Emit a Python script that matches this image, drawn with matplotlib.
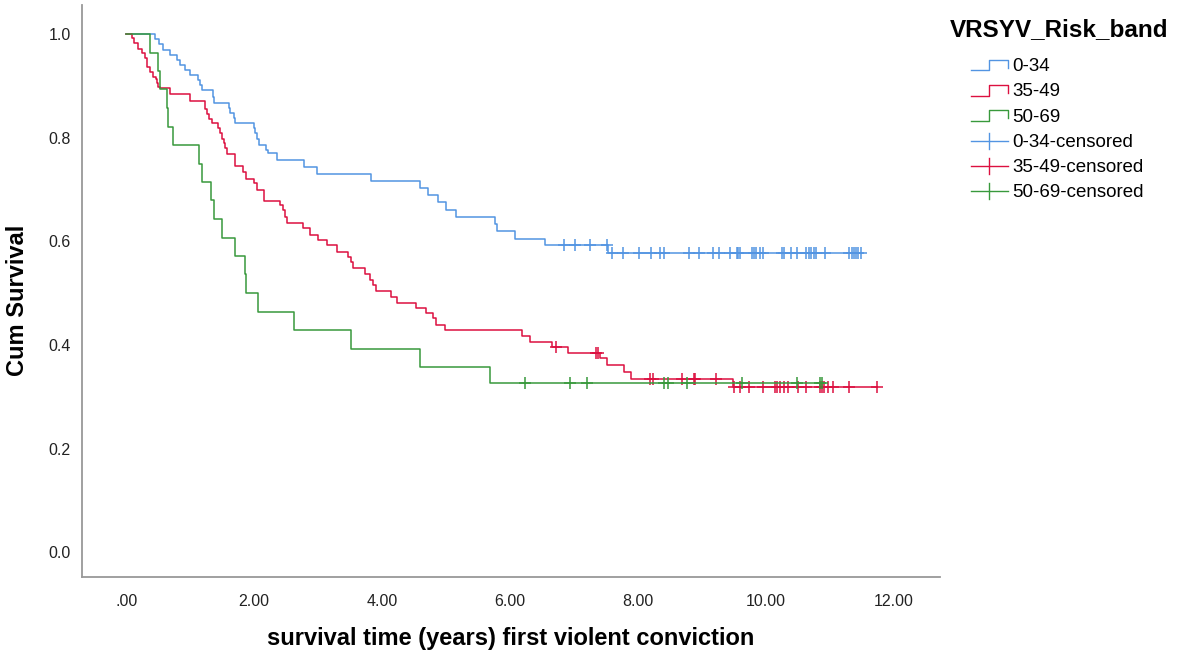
import numpy as np
import matplotlib
matplotlib.use("Agg")
import matplotlib.pyplot as plt
from matplotlib.lines import Line2D
from matplotlib.legend_handler import HandlerBase

plt.rcParams['font.family'] = ['Liberation Sans', 'DejaVu Sans']

# Kaplan-Meier steps: event time (years) and cumulative survival after the event
low_times = [0.45, 0.52, 0.58, 0.69, 0.79, 0.84, 0.92, 1.00, 1.13, 1.16, 1.18, 1.36, 1.375,
             1.60, 1.625, 1.68, 1.70, 2.00, 2.02, 2.04, 2.07, 2.19, 2.22, 2.35, 2.78, 2.99,
             3.82, 4.59, 4.71, 4.88, 5.00, 5.15, 5.77, 5.80, 6.08, 6.55, 7.53]
low_surv = [0.990, 0.980, 0.969, 0.959, 0.950, 0.940, 0.931, 0.921, 0.911, 0.902, 0.892, 0.879, 0.866,
            0.857, 0.847, 0.837, 0.828, 0.818, 0.808, 0.797, 0.786, 0.776, 0.770, 0.757, 0.743, 0.730,
            0.716, 0.702, 0.689, 0.675, 0.660, 0.646, 0.634, 0.620, 0.605, 0.593, 0.578]
low_cens = [6.84, 7.02, 7.25, 7.52, 7.59, 7.77, 8.02, 8.20, 8.35, 8.40, 8.80, 8.96, 9.17, 9.27,
            9.44, 9.54, 9.57, 9.60, 9.78, 9.81, 9.85, 9.91, 9.96, 10.25, 10.28, 10.39, 10.48,
            10.63, 10.68, 10.71, 10.75, 10.78, 10.92, 11.30, 11.34, 11.38, 11.41, 11.44, 11.48]

mid_times = [0.089, 0.115, 0.193, 0.245, 0.297, 0.323, 0.375, 0.427, 0.47, 0.479, 0.505, 0.53,
             0.69, 1.00, 1.24, 1.27, 1.30, 1.34, 1.43, 1.47, 1.50, 1.53, 1.55, 1.57, 1.70, 1.83,
             1.87, 2.00, 2.04, 2.15, 2.41, 2.45, 2.48, 2.52, 2.76, 2.875, 3.00, 3.14, 3.29, 3.47,
             3.51, 3.55, 3.73, 3.81, 3.86, 3.91, 4.14, 4.23, 4.53, 4.69, 4.80, 4.85, 4.98, 6.18,
             6.31, 6.65, 6.90, 7.41, 7.51, 7.78, 7.89, 9.48]
mid_surv = [0.992, 0.982, 0.971, 0.963, 0.953, 0.937, 0.927, 0.918, 0.914, 0.905, 0.898, 0.895,
            0.884, 0.870, 0.856, 0.846, 0.836, 0.828, 0.818, 0.808, 0.798, 0.790, 0.780, 0.768, 0.745, 0.734,
            0.721, 0.712, 0.699, 0.678, 0.670, 0.660, 0.647, 0.635, 0.625, 0.612, 0.602, 0.593, 0.580, 0.570,
            0.560, 0.548, 0.537, 0.525, 0.515, 0.504, 0.493, 0.481, 0.472, 0.461, 0.451, 0.438, 0.429, 0.417,
            0.406, 0.396, 0.385, 0.374, 0.361, 0.348, 0.335, 0.319]
mid_cens = [6.72, 7.35, 7.38, 8.18, 8.23, 8.68, 8.875, 8.89, 9.22, 9.50, 9.59, 9.74, 9.95,
            10.14, 10.17, 10.22, 10.28, 10.35, 10.50, 10.63, 10.84, 10.87, 10.90, 10.97, 11.05,
            11.30, 11.73]

high_times = [0.375, 0.505, 0.53, 0.636, 0.66, 0.73, 1.146, 1.18, 1.33, 1.38, 1.505, 1.70,
              1.86, 1.87, 2.06, 2.63, 3.51, 4.60, 5.69]
high_surv = [0.964, 0.929, 0.893, 0.857, 0.821, 0.786, 0.750, 0.714, 0.679, 0.643, 0.607, 0.571,
             0.536, 0.500, 0.464, 0.429, 0.393, 0.357, 0.326]
high_cens = [6.23, 6.93, 7.21, 8.40, 8.47, 8.76, 9.62, 10.48, 10.84, 10.87]

bands = ['0-34', '35-49', '50-69']
colors = ['#5294e2', '#dc1040', '#38993c']
series = [(low_times, low_surv, low_cens),
          (mid_times, mid_surv, mid_cens),
          (high_times, high_surv, high_cens)]


class StepHandler(HandlerBase):
    def create_artists(self, legend, orig_handle, xdescent, ydescent, width, height, fontsize, trans):
        xs = np.array([0, 0.48, 0.48, 1, 1]) * width - xdescent
        ys = np.array([0.05, 0.05, 0.85, 0.85, 0.25]) * height - ydescent
        return [Line2D(xs, ys, color=orig_handle.get_color(), lw=1, transform=trans)]


class CensorHandler(HandlerBase):
    def create_artists(self, legend, orig_handle, xdescent, ydescent, width, height, fontsize, trans):
        c = orig_handle.get_color()
        mid = 0.45 * height - ydescent
        h = Line2D([-xdescent, width - xdescent], [mid, mid], color=c, lw=1, transform=trans)
        v = Line2D([0.48 * width - xdescent] * 2, [mid - 0.6 * height, mid + 0.6 * height],
                   color=c, lw=1, transform=trans)
        return [h, v]


fig = plt.figure(figsize=(11.78, 6.56), dpi=100)
ax = fig.add_axes([82 / 1178, 79 / 656, 858 / 1178, 572 / 656])

step_handles = []
cens_handles = []
for (t, s, cens), col in zip(series, colors):
    last = max(max(cens), max(t))
    xs = [0] + list(t) + [last]
    ys = [1.0] + list(s) + [s[-1]]
    ln, = ax.plot(xs, ys, drawstyle='steps-post', color=col, lw=1.1)
    # censored cases sit on the curve at the level in effect at their time
    idx = np.searchsorted(np.array(t), np.array(cens), side='right')
    cy = np.array([1.0] + list(s))[idx]
    ax.plot(cens, cy, ls='none', marker='+', ms=8, mew=1.1, color=col)
    step_handles.append(ln)
    cens_handles.append(Line2D([], [], color=col))

ax.set_xlim(-0.69, 12.72)
ax.set_ylim(-0.048, 1.056)
ax.set_xticks(np.arange(0, 13, 2))
ax.set_xticklabels(['.00'] + ['%.2f' % v for v in np.arange(2, 13, 2)])
ax.set_yticks(np.arange(0, 1.01, 0.2))
ax.set_yticklabels(['%.1f' % v for v in np.arange(0, 1.01, 0.2)])
ax.tick_params(length=0, labelsize=11.5, colors='#222222')
ax.tick_params(axis='x', pad=12)
ax.tick_params(axis='y', pad=8)
for side in ['top', 'right']:
    ax.spines[side].set_visible(False)
for side in ['left', 'bottom']:
    ax.spines[side].set_color('#999999')
    ax.spines[side].set_linewidth(1.3)

fig.text(18 / 1178, 1 - 300 / 656, 'Cum Survival', rotation=90, ha='center', va='center',
         fontsize=17, fontweight='bold')
fig.text(511 / 1178, 1 - 638 / 656, 'survival time (years) first violent conviction',
         ha='center', va='center', fontsize=17, fontweight='bold')
fig.text(950 / 1178, 1 - 30 / 656, 'VRSYV_Risk_band', ha='left', va='center',
         fontsize=17.5, fontweight='bold')

handler_map = {h: StepHandler() for h in step_handles}
handler_map.update({h: CensorHandler() for h in cens_handles})
fig.legend(step_handles + cens_handles,
           bands + [b + '-censored' for b in bands],
           handler_map=handler_map, loc='upper left',
           bbox_to_anchor=(971 / 1178, 1 - 58 / 656), frameon=False,
           fontsize=13.5, borderpad=0, borderaxespad=0, handlelength=2.0,
           handletextpad=0.2, labelspacing=0.43)

fig.savefig('out.png', dpi=100)
